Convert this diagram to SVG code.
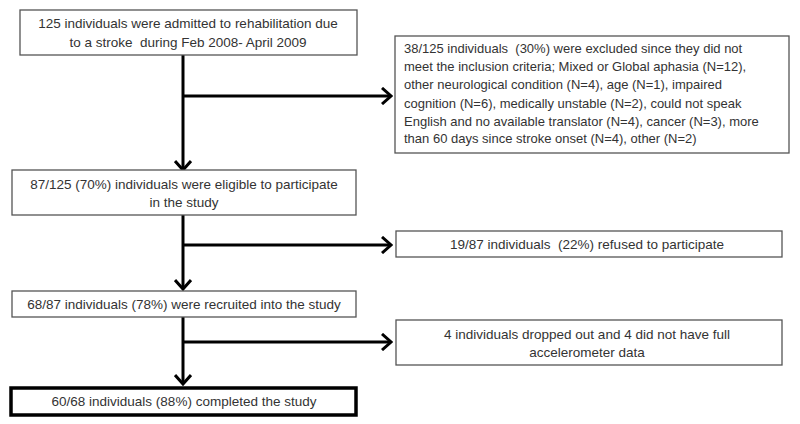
<svg xmlns="http://www.w3.org/2000/svg" width="800" height="424" viewBox="0 0 800 424">
<style>
.box{fill:#fff;stroke:#555;stroke-width:1.3}
.thick{fill:#fff;stroke:#000;stroke-width:3.5}
.t{font-family:"Liberation Sans",Arial,sans-serif;font-size:13.5px;fill:#333;white-space:pre}
.s{font-size:13px}
.c{text-anchor:middle}
.ln{fill:none;stroke:#000;stroke-width:3}
</style>
<defs>
<marker id="ah" viewBox="0 0 12 18" refX="10" refY="9" markerWidth="12" markerHeight="18" markerUnits="userSpaceOnUse" orient="auto">
<path d="M1,1 L10,9 L1,17" fill="none" stroke="#000" stroke-width="3"/>
</marker>
</defs>
<rect width="800" height="424" fill="#fff"/>
<g id="connectors">
<line class="ln" x1="183" y1="55" x2="183" y2="170" marker-end="url(#ah)"/>
<line class="ln" x1="183" y1="96" x2="391" y2="96" marker-end="url(#ah)"/>
<line class="ln" x1="183" y1="215" x2="183" y2="289" marker-end="url(#ah)"/>
<line class="ln" x1="183" y1="245" x2="391" y2="245" marker-end="url(#ah)"/>
<line class="ln" x1="183" y1="317" x2="183" y2="384" marker-end="url(#ah)"/>
<line class="ln" x1="183" y1="342" x2="391" y2="342" marker-end="url(#ah)"/>
</g>
<g id="admitted">
<rect class="box" x="20" y="10" width="337" height="45"/>
<text class="t c" x="188" y="28">125 individuals were admitted to rehabilitation due</text>
<text class="t c" x="188" y="47">to a stroke  during Feb 2008- April 2009</text>
</g>
<g id="excluded">
<rect class="box" x="395" y="36" width="394" height="117"/>
<text class="t s" x="404" y="53">38/125 individuals  (30%) were excluded since they did not</text>
<text class="t s" x="404" y="71">meet the inclusion criteria; Mixed or Global aphasia (N=12),</text>
<text class="t s" x="404" y="89">other neurological condition (N=4), age (N=1), impaired</text>
<text class="t s" x="404" y="108">cognition (N=6), medically unstable (N=2), could not speak</text>
<text class="t s" x="404" y="126">English and no available translator (N=4), cancer (N=3), more</text>
<text class="t s" x="404" y="143">than 60 days since stroke onset (N=4), other (N=2)</text>
</g>
<g id="eligible">
<rect class="box" x="12" y="170" width="344" height="45"/>
<text class="t c" x="184" y="189">87/125 (70%) individuals were eligible to participate</text>
<text class="t c" x="184" y="207">in the study</text>
</g>
<g id="refused">
<rect class="box" x="396" y="231" width="386" height="26"/>
<text class="t c" x="587" y="249">19/87 individuals  (22%) refused to participate</text>
</g>
<g id="recruited">
<rect class="box" x="12" y="291" width="344" height="26"/>
<text class="t c" x="184" y="309">68/87 individuals (78%) were recruited into the study</text>
</g>
<g id="dropped">
<rect class="box" x="396" y="320" width="386" height="45"/>
<text class="t c" x="587" y="339">4 individuals dropped out and 4 did not have full</text>
<text class="t c" x="587" y="357">accelerometer data</text>
</g>
<g id="completed">
<rect class="thick" x="11" y="388" width="345" height="27"/>
<text class="t c" x="184" y="406">60/68 individuals (88%) completed the study</text>
</g>
</svg>
